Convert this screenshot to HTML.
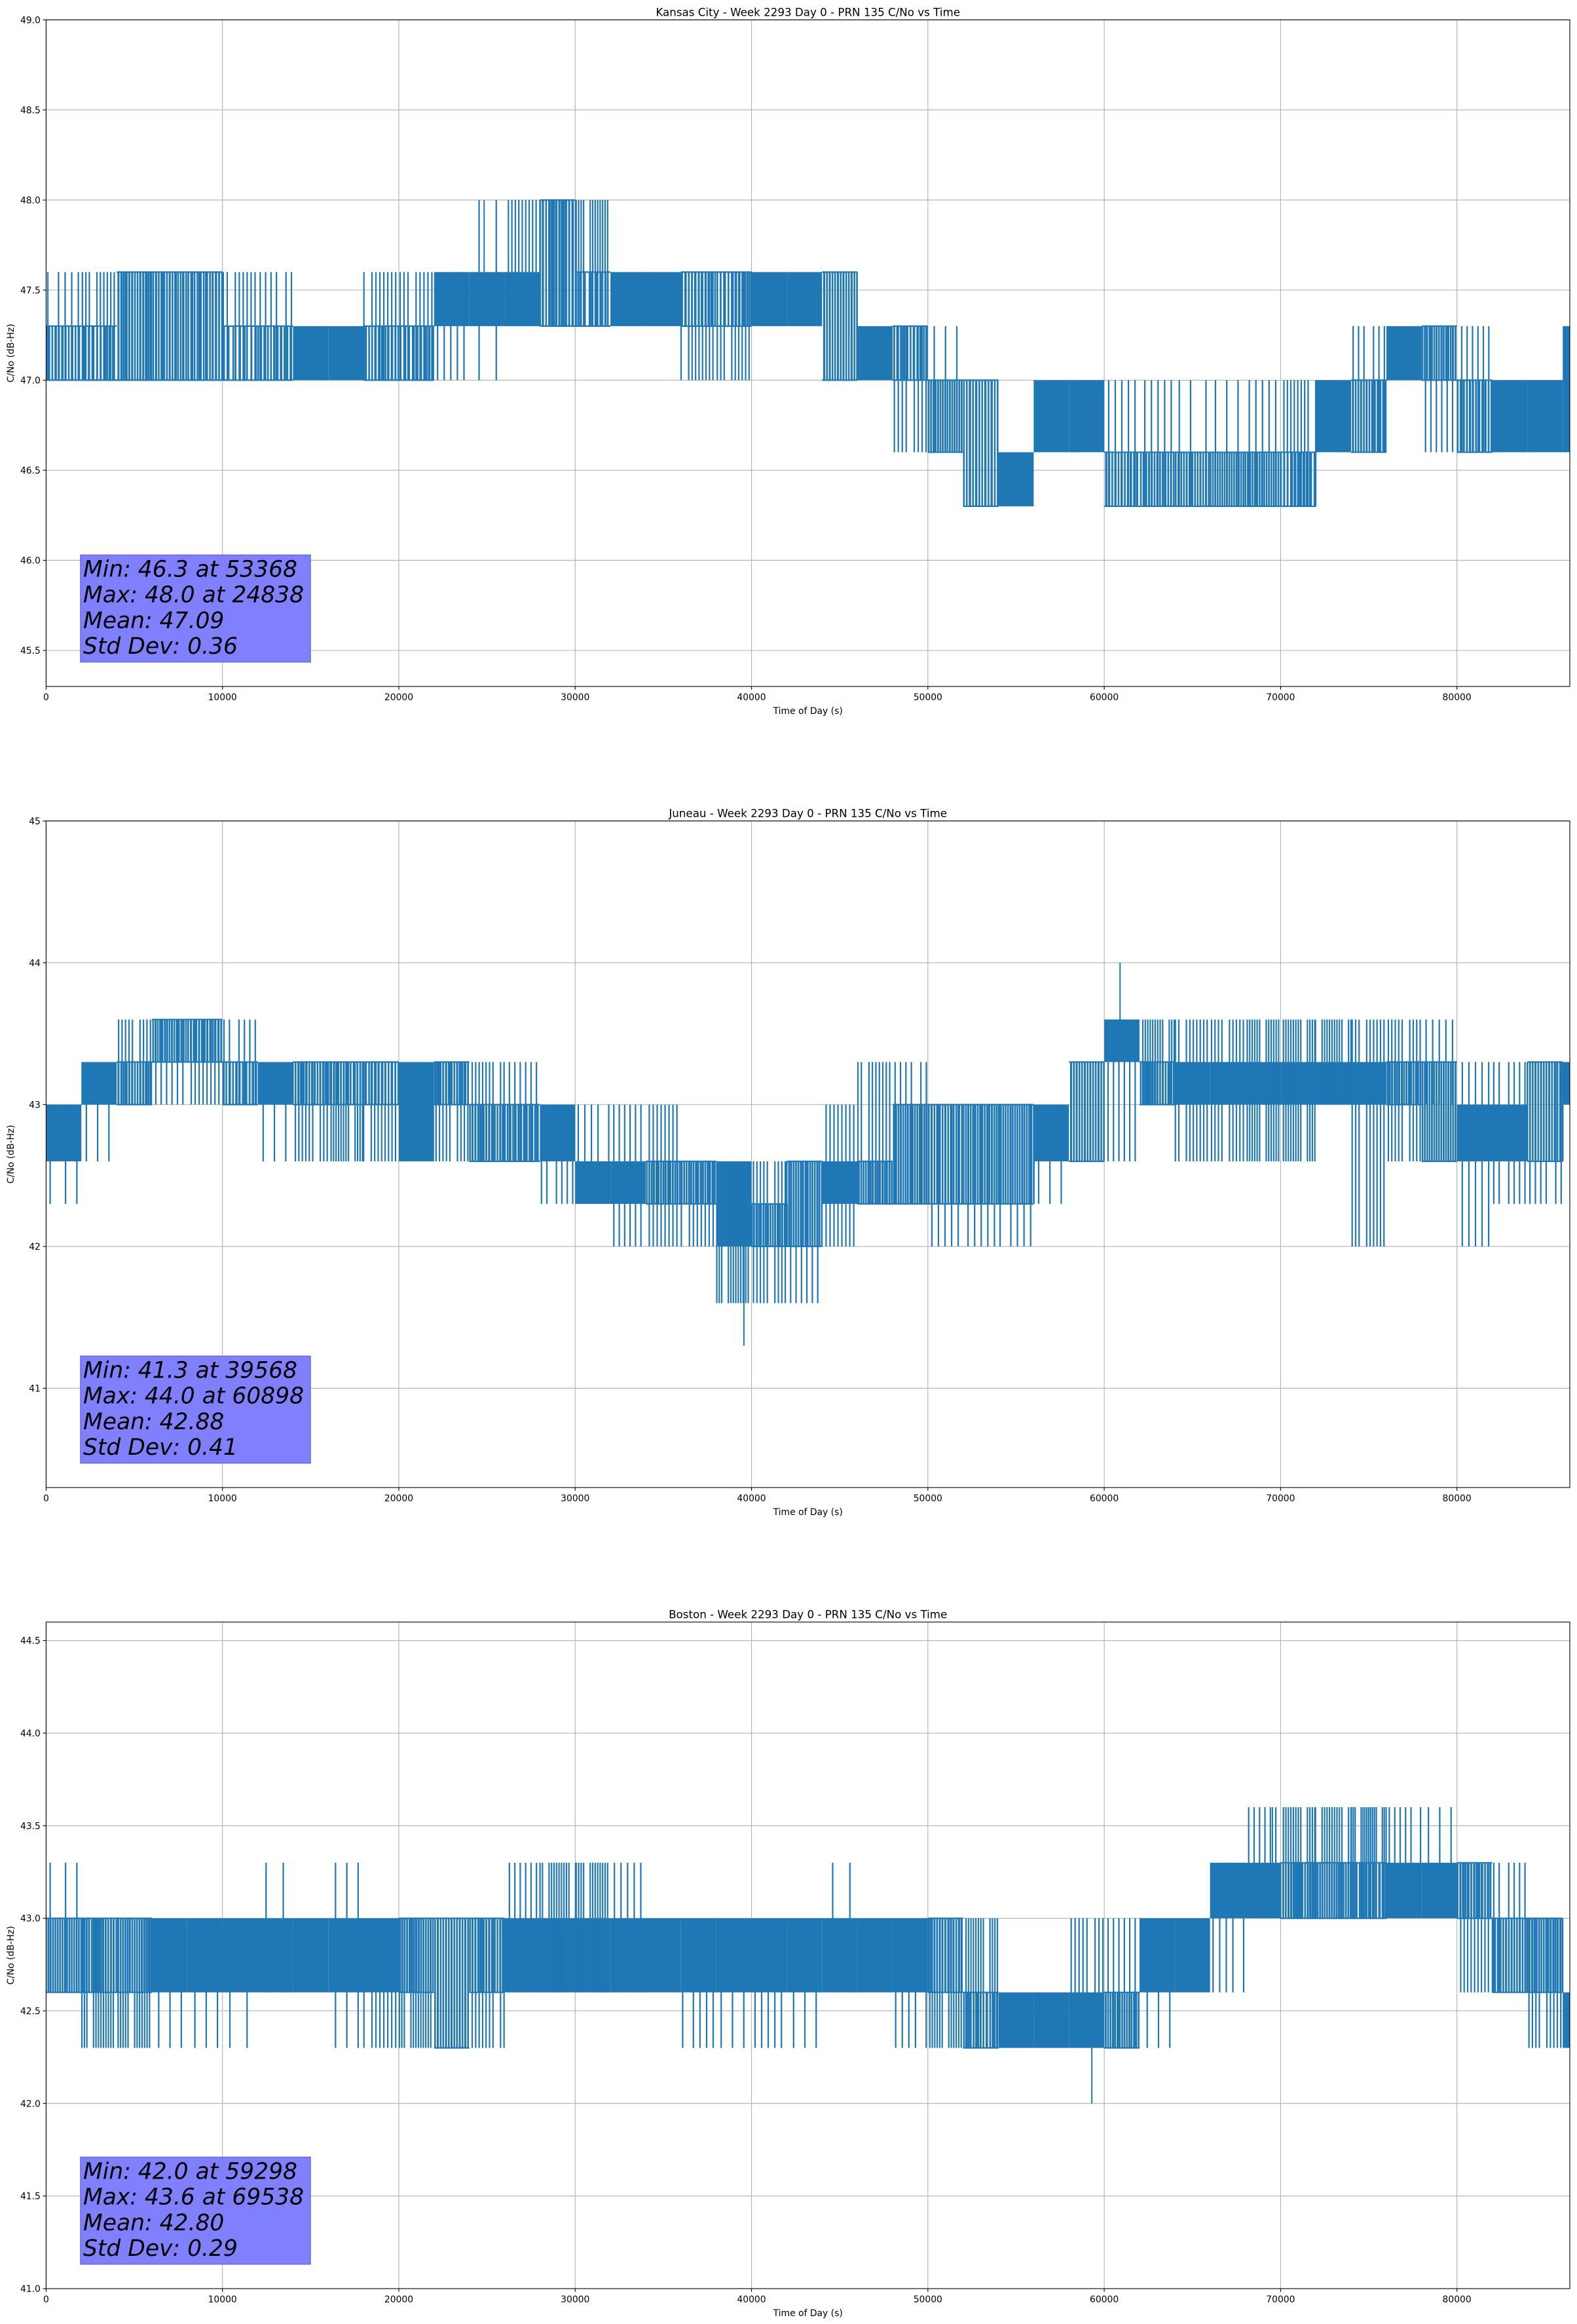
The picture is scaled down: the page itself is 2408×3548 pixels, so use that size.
<!DOCTYPE html>
<html><head><meta charset="utf-8">
<style>
html,body{margin:0;padding:0;background:#fff;}
svg{display:block;}
text{font-family:"DejaVu Sans","Liberation Sans",sans-serif;fill:#000;}
</style></head>
<body>
<svg id="fig" width="2408" height="3548" viewBox="0 0 2408 3548" xmlns="http://www.w3.org/2000/svg">
<rect x="0" y="0" width="2408" height="3548" fill="#fff"/>
</svg>
<script>
// ---------- data (2000 s bins) ----------
const xTicks = [0,10000,20000,30000,40000,50000,60000,70000,80000];
const titles = ["Kansas City - Week 2293 Day 0 - PRN 135 C/No vs Time","Juneau - Week 2293 Day 0 - PRN 135 C/No vs Time","Boston - Week 2293 Day 0 - PRN 135 C/No vs Time"];
const yMins = [45.3, 40.3, 41.0];
const yMaxs = [49.0, 45.0, 44.6];
const yTicks1 = [45.5,46.0,46.5,47.0,47.5,48.0,48.5,49.0];
const yTicks2 = [41,42,43,44,45];
const yTicks3 = [41.0,41.5,42.0,42.5,43.0,43.5,44.0,44.5];
const yTickDec = [1,0,1];
const statMinV = [46.3, 41.3, 42.0];
const statMinT = [53368, 39568, 59298];
const statMaxV = [48.0, 44.0, 43.6];
const statMaxT = [24838, 60898, 69538];
const statMean = ["47.09","42.88","42.80"];
const statStd = ["0.36","0.41","0.29"];

const kcLo = [47.0,47.0,47.0,47.0,47.0,47.0,47.0,47.0,47.0,47.0,47.0,47.3,47.3,47.3,47.3,47.3,47.3,47.3,47.3,47.3,47.3,47.3,47.0,47.0,47.0,46.6,46.3,46.3,46.6,46.6,46.3,46.3,46.3,46.3,46.3,46.3,46.6,46.6,47.0,47.0,46.6,46.6,46.6,46.6];
const kcHi = [47.3,47.3,47.6,47.6,47.6,47.3,47.3,47.3,47.3,47.3,47.3,47.6,47.6,47.6,48.0,47.6,47.6,47.6,47.6,47.6,47.6,47.6,47.6,47.3,47.3,47.0,47.0,46.6,47.0,47.0,46.6,46.6,46.6,46.6,46.6,46.6,47.0,47.0,47.3,47.3,47.0,47.0,47.0,47.3];
const kcDens = [0.5,0.4,0.6,0.6,0.55,0.3,0.5,0.8,0.95,0.5,0.4,0.8,0.9,0.9,0.5,0.3,0.9,0.9,0.5,0.45,0.9,0.9,0.6,0.9,0.5,0.7,0.55,0.95,0.9,0.95,0.55,0.6,0.6,0.7,0.7,0.45,0.8,0.6,0.9,0.7,0.55,0.95,0.95,0.9];
const kcSpLo = [47.0,47.0,47.0,47.0,47.0,47.0,47.0,47.0,47.0,47.0,47.0,47.0,47.0,47.3,47.3,47.3,47.3,47.3,47.0,47.0,47.3,47.3,47.0,47.0,46.6,46.6,46.3,46.3,46.6,46.6,46.3,46.3,46.3,46.3,46.3,46.3,46.6,46.6,47.0,46.6,46.6,46.6,46.6,46.6];
const kcSpHi = [47.6,47.6,47.6,47.6,47.6,47.6,47.6,47.3,47.3,47.6,47.6,47.6,48.0,48.0,48.0,48.0,47.6,47.6,47.6,47.6,47.6,47.6,47.6,47.3,47.3,47.3,47.0,46.6,47.0,47.0,47.0,47.0,47.0,47.0,47.0,47.0,47.0,47.3,47.3,47.3,47.3,47.0,47.0,47.3];
const kcSpN = [3,6,6,3,3,5,4,2,0,5,5,3,1,6,8,8,0,0,6,6,0,0,0,0,5,2,0,0,0,0,3,3,2,2,3,6,0,4,0,4,4,0,0,0];

const juLo = [42.6,43.0,43.0,43.3,43.3,43.0,43.0,43.0,43.0,43.0,42.6,43.0,42.6,42.6,42.6,42.3,42.3,42.3,42.3,42.0,42.0,42.0,42.3,42.3,42.3,42.3,42.3,42.3,42.6,42.6,43.3,43.0,43.0,43.0,43.0,43.0,43.0,43.0,43.0,42.6,42.6,42.6,42.6,43.0];
const juHi = [43.0,43.3,43.3,43.6,43.6,43.3,43.3,43.3,43.3,43.3,43.3,43.3,43.0,43.0,43.0,42.6,42.6,42.6,42.6,42.6,42.3,42.6,42.6,42.6,43.0,43.0,43.0,43.0,43.0,43.3,43.6,43.3,43.3,43.3,43.3,43.3,43.3,43.3,43.3,43.3,43.0,43.0,43.3,43.3];
const juDens = [0.9,0.9,0.6,0.7,0.6,0.5,0.9,0.6,0.5,0.5,0.8,0.6,0.6,0.6,0.8,0.9,0.8,0.7,0.7,0.8,0.7,0.7,0.9,0.7,0.7,0.6,0.7,0.7,0.8,0.6,0.8,0.6,0.8,0.9,0.8,0.9,0.9,0.9,0.7,0.7,0.9,0.8,0.6,0.9];
const juSpLo = [42.3,42.6,43.0,43.0,43.0,43.0,42.6,42.6,42.6,42.6,42.6,42.6,42.6,42.6,42.3,42.3,42.0,42.0,42.0,41.6,41.6,41.6,42.0,42.3,42.3,42.0,42.0,42.0,42.3,42.6,42.6,43.0,42.6,42.6,42.6,42.6,43.0,42.0,42.6,43.0,42.0,42.3,42.3,43.0];
const juSpHi = [43.0,43.3,43.6,43.6,43.6,43.6,43.3,43.3,43.3,43.3,43.3,43.3,43.3,43.3,43.0,43.0,43.0,43.0,42.6,42.6,42.6,42.6,43.0,43.3,43.3,43.0,43.0,43.0,43.0,43.3,43.6,43.6,43.6,43.6,43.6,43.6,43.6,43.6,43.6,43.6,43.3,43.3,43.3,43.3];
const juSpN = [2,2,6,4,5,4,2,6,8,6,0,6,6,4,4,3,4,5,5,8,6,4,5,6,4,3,3,3,2,0,4,8,6,6,8,8,8,6,6,3,3,4,4,0];

const boLo = [42.6,42.6,42.6,42.6,42.6,42.6,42.6,42.6,42.6,42.6,42.6,42.3,42.6,42.6,42.6,42.6,42.6,42.6,42.6,42.6,42.6,42.6,42.6,42.6,42.6,42.6,42.3,42.3,42.3,42.3,42.3,42.6,42.6,43.0,43.0,43.0,43.0,43.0,43.0,43.0,43.0,42.6,42.6,42.3];
const boHi = [43.0,43.0,43.0,43.0,43.0,43.0,43.0,43.0,43.0,43.0,43.0,43.0,43.0,43.0,43.0,43.0,43.0,43.0,43.0,43.0,43.0,43.0,43.0,43.0,43.0,43.0,42.6,42.6,42.6,42.6,42.6,43.0,43.0,43.3,43.3,43.3,43.3,43.3,43.3,43.3,43.3,43.0,43.0,42.6];
const boDens = [0.7,0.6,0.7,0.8,0.9,0.95,0.95,0.95,0.95,0.8,0.7,0.6,0.6,0.9,0.95,0.9,0.95,0.95,0.9,0.9,0.9,0.95,0.95,0.9,0.85,0.6,0.5,0.95,0.95,0.8,0.7,0.8,0.8,0.9,0.9,0.6,0.7,0.5,0.8,0.9,0.6,0.6,0.7,0.8];
const boSpLo = [42.6,42.3,42.3,42.3,42.3,42.3,42.6,42.6,42.3,42.3,42.3,42.3,42.3,42.6,42.6,42.6,42.6,42.6,42.3,42.3,42.3,42.3,42.6,42.6,42.3,42.3,42.3,42.3,42.3,42.3,42.3,42.3,42.6,42.6,43.0,43.0,43.0,43.0,43.0,43.0,42.6,42.6,42.3,42.3];
const boSpHi = [43.3,43.0,43.0,43.0,43.0,43.0,43.3,43.0,43.3,43.0,43.0,43.0,43.0,43.3,43.3,43.3,43.3,43.0,43.0,43.0,43.0,43.0,43.3,43.0,43.0,43.0,43.0,42.6,42.6,43.0,43.0,43.0,43.0,43.3,43.6,43.6,43.6,43.6,43.6,43.6,43.3,43.3,43.0,42.6];
const boSpN = [2,8,8,2,2,1,1,0,2,5,8,0,6,4,8,8,3,0,3,2,3,2,1,0,3,8,8,0,0,5,4,2,0,3,4,8,8,10,4,2,6,4,6,0];

const binSize = 2000;
const xMax = 86400;

// ---------- rendering ----------
const NS = "http://www.w3.org/2000/svg";
const svg = document.getElementById("fig");
const L = 70.4, R = 2397, TOP0 = 30.3, H = 1017.7, STEP = 1223;
const BLUE = "#1f77b4";
function mk(tag, attrs, parent){const e=document.createElementNS(NS,tag);for(const k in attrs)e.setAttribute(k,attrs[k]);(parent||svg).appendChild(e);return e;}
function xs(t){return L + (t/xMax)*(R-L);}

const allLo=[kcLo,juLo,boLo], allHi=[kcHi,juHi,boHi], allD=[kcDens,juDens,boDens];
const allSL=[kcSpLo,juSpLo,boSpLo], allSH=[kcSpHi,juSpHi,boSpHi], allSN=[kcSpN,juSpN,boSpN];
const allYT=[yTicks1,yTicks2,yTicks3];
const panelNames=["kansas-city","juneau","boston"];

for(let p=0;p<3;p++){
  const top = TOP0 + p*STEP, bot = top + H;
  const y0=yMins[p], y1=yMaxs[p];
  const ys = v => bot - (v-y0)/(y1-y0)*H;
  const g = mk("g",{});
  
  
  const grid = mk("g",{stroke:"#b0b0b0","stroke-width":"1.1"},g);
  
  
  xTicks.forEach(t=>{mk("line",{x1:xs(t),x2:xs(t),y1:top,y2:bot},grid);});
  allYT[p].forEach(v=>{mk("line",{x1:L,x2:R,y1:ys(v),y2:ys(v)},grid);});
  const clip = "clip"+p;
  const cp = mk("clipPath",{id:clip},g); mk("rect",{x:L,y:top,width:R-L,height:H},cp);
  const ser = mk("g",{fill:BLUE,stroke:BLUE,"clip-path":"url(#"+clip+")"},g);
  
  
  const lo=allLo[p],hi=allHi[p],d=allD[p],sl=allSL[p],sh=allSH[p],sn=allSN[p];
  for(let i=0;i<lo.length;i++){
    const t0=i*binSize, t1=Math.min((i+1)*binSize,xMax);
    const xa=xs(t0), xb=xs(t1), w=xb-xa;
    const yt=ys(hi[i]), yb=ys(lo[i]);
    if(d[i]>=0.75){
      mk("rect",{x:xa,y:yt,width:w,height:yb-yt,stroke:"none"},ser);
    } else {
      const n=Math.max(1,Math.round(d[i]*30*(w/54)));
      for(let k=0;k<n;k++){
        const xx = xa + (k+0.5)*w/n + ((k*37+i*13)%7-3)*0.5;
        mk("line",{x1:xx,x2:xx,y1:yt,y2:yb,"stroke-width":"2.6"},ser);
      }
      mk("line",{x1:xa,x2:xb,y1:yt,y2:yt,"stroke-width":"2.2"},ser);
      mk("line",{x1:xa,x2:xb,y1:yb,y2:yb,"stroke-width":"2.2"},ser);
    }
    const ns=Math.round(sn[i]*1.5);
    for(let k=0;k<ns;k++){
      const xx = xa + (k+0.5)*w/ns + ((k*53+i*29)%9-4)*0.7;
      mk("line",{x1:xx,x2:xx,y1:ys(sh[i]),y2:ys(sl[i]),"stroke-width":"2.2"},ser);
    }
  }
  {
    const bi=Math.floor(statMinT[p]/binSize);
    mk("line",{x1:xs(statMinT[p]),x2:xs(statMinT[p]),y1:ys(statMinV[p]),y2:ys(lo[bi]),"stroke-width":"2"},ser);
    const bj=Math.floor(statMaxT[p]/binSize);
    mk("line",{x1:xs(statMaxT[p]),x2:xs(statMaxT[p]),y1:ys(statMaxV[p]),y2:ys(hi[bj]),"stroke-width":"2"},ser);
  }
  const sp = mk("rect",{x:L,y:top,width:R-L,height:H,fill:"none",stroke:"#000","stroke-width":"1.1"},g);
  
  
  xTicks.forEach(t=>{
    mk("line",{x1:xs(t),x2:xs(t),y1:bot,y2:bot+4.9,stroke:"#000","stroke-width":"1.1"},g);
    const tx=mk("text",{x:xs(t),y:bot+21,"font-size":"13.9","text-anchor":"middle"},g);
    tx.textContent=String(t);
    
    
  });
  allYT[p].forEach(v=>{
    mk("line",{x1:L-4.9,x2:L,y1:ys(v),y2:ys(v),stroke:"#000","stroke-width":"1.1"},g);
    const tx=mk("text",{x:L-8.5,y:ys(v)+5,"font-size":"13.9","text-anchor":"end"},g);
    tx.textContent=v.toFixed(yTickDec[p]);
    
    
  });
  const ti=mk("text",{x:(L+R)/2,y:top-6,"font-size":"16.7","text-anchor":"middle"},g);
  ti.textContent=titles[p];
  
  
  const xl=mk("text",{x:(L+R)/2,y:bot+42,"font-size":"13.9","text-anchor":"middle"},g);
  xl.textContent="Time of Day (s)";
  
  
  const yl=mk("text",{x:0,y:0,"font-size":"13.9","text-anchor":"middle",transform:"translate(21,"+(top+H/2)+") rotate(-90)"},g);
  yl.textContent="C/No (dB-Hz)";
  
  
  const bx=mk("rect",{x:123,y:top+817,width:351,height:163.4,fill:"#8080ff",stroke:"#6a6ad0","stroke-width":"1.5"},g);
  
  
  const lines=["Min: "+statMinV[p].toFixed(1)+" at "+statMinT[p],"Max: "+statMaxV[p].toFixed(1)+" at "+statMaxT[p],"Mean: "+statMean[p],"Std Dev: "+statStd[p]];
  lines.forEach((s,k)=>{
    const tx=mk("text",{x:127,y:top+850+k*39.3,"font-size":"34.5","font-style":"italic"},g);
    tx.textContent=s;
    
    
  });
}
</script>
</body></html>
